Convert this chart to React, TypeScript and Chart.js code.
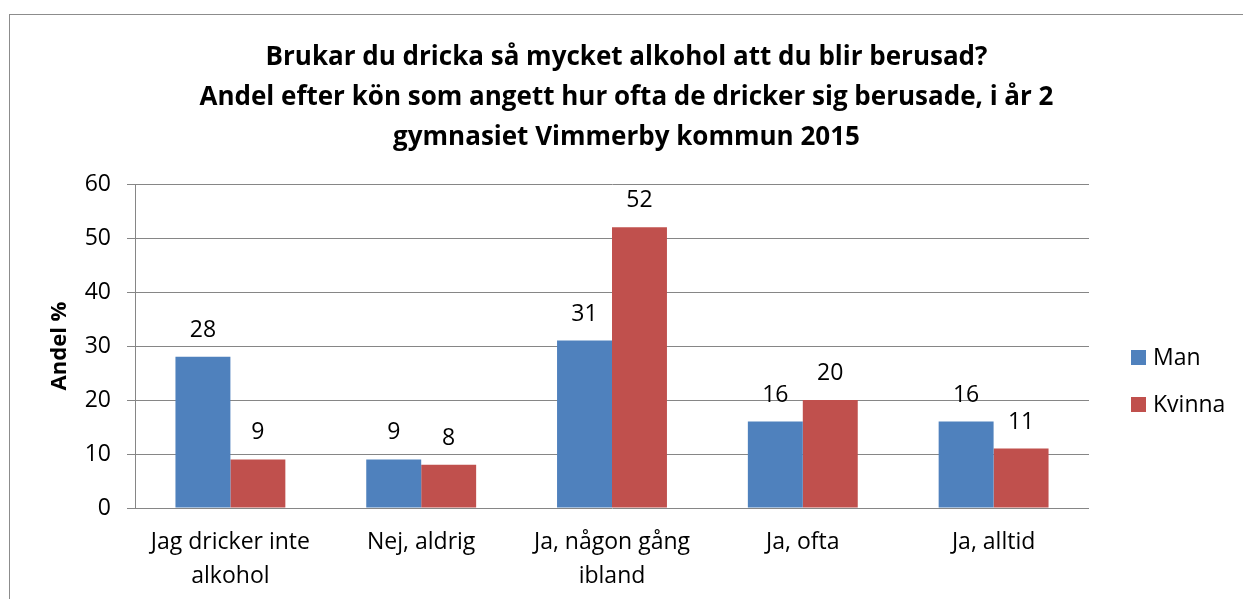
import React, { useEffect, useRef } from "react";
import { Chart, registerables } from "chart.js";

Chart.register(...registerables);

const categories: (string | string[])[] = [
  ["Jag dricker inte", "alkohol"],
  "Nej, aldrig",
  ["Ja, någon gång", "ibland"],
  "Ja, ofta",
  "Ja, alltid",
];
const seriesNames = ["Man", "Kvinna"];
const manValues = [28, 9, 31, 16, 16];
const kvinnaValues = [9, 8, 52, 20, 11];
const seriesColors = ["#4F81BD", "#C0504D"];
const yMin = 0;
const yMax = 60;
const yStep = 10;
const titleLines = [
  "Brukar du dricka så mycket alkohol att du blir berusad?",
  "Andel efter kön som angett hur ofta de dricker sig berusade, i år 2",
  "gymnasiet Vimmerby kommun 2015",
];
const yAxisTitle = "Andel %";

const FONT = "'Open Sans', sans-serif";
const W = 1233;
const H = 584;

const labelsPlugin = {
  id: "barLabels",
  afterDatasetsDraw(chart: any) {
    const ctx = chart.ctx;
    ctx.save();
    ctx.font = `23px ${FONT}`;
    ctx.fillStyle = "#000";
    ctx.textAlign = "center";
    ctx.textBaseline = "alphabetic";
    chart.data.datasets.forEach((ds: any, di: number) => {
      const meta = chart.getDatasetMeta(di);
      meta.data.forEach((bar: any, i: number) => {
        ctx.fillText(String(ds.data[i]), bar.x, bar.y - 20);
      });
    });
    ctx.restore();
  },
};

const legendPlugin = {
  id: "customLegend",
  afterDraw(chart: any) {
    const ctx = chart.ctx;
    ctx.save();
    ctx.font = `23px ${FONT}`;
    ctx.textAlign = "left";
    ctx.textBaseline = "alphabetic";
    chart.data.datasets.forEach((ds: any, di: number) => {
      const y = 335 + di * 47;
      ctx.fillStyle = ds.backgroundColor;
      ctx.fillRect(1121, y, 15, 15);
      ctx.fillStyle = "#000";
      ctx.fillText(ds.label, 1143, y + 15);
    });
    ctx.restore();
  },
};

export default function App() {
  const ref = useRef<HTMLCanvasElement>(null);

  useEffect(() => {
    if (!ref.current) return;
    Chart.defaults.font.family = FONT;
    const chart = new Chart(ref.current, {
      type: "bar",
      data: {
        labels: categories,
        datasets: [
          {
            label: seriesNames[0],
            data: manValues,
            backgroundColor: seriesColors[0],
            categoryPercentage: 0.576,
            barPercentage: 1,
          },
          {
            label: seriesNames[1],
            data: kvinnaValues,
            backgroundColor: seriesColors[1],
            categoryPercentage: 0.576,
            barPercentage: 1,
          },
        ],
      },
      options: {
        responsive: false,
        animation: false,
        devicePixelRatio: 1,
        layout: { padding: 0 },
        plugins: {
          legend: { display: false },
          tooltip: { enabled: false },
          title: {
            display: true,
            text: titleLines,
            color: "#000",
            font: { family: FONT, size: 26, weight: "bold", lineHeight: 40 / 26 },
            padding: { top: 23, bottom: 26 },
          },
        },
        scales: {
          x: {
            grid: { display: false },
            border: { display: false },
            ticks: {
              color: "#000",
              font: { family: FONT, size: 23, lineHeight: 34 / 23 },
              padding: 9,
              maxRotation: 0,
              autoSkip: false,
            },
            afterFit(scale: any) {
              scale.height = 91;
            },
          },
          y: {
            min: yMin,
            max: yMax,
            grid: {
              color: "#868686",
              lineWidth: 1,
              tickLength: 8,
              drawTicks: true,
            },
            border: { display: true, color: "#868686", width: 1 },
            ticks: {
              stepSize: yStep,
              color: "#000",
              font: { family: FONT, size: 23 },
              padding: 16,
            },
            title: {
              display: true,
              text: yAxisTitle,
              color: "#000",
              font: { family: FONT, size: 22, weight: "bold" },
              padding: { top: 37, bottom: 0 },
            },
            afterFit(scale: any) {
              scale.width = 125;
            },
          },
          yRightSpace: {
            position: "right",
            display: true,
            grid: { display: false, drawTicks: false },
            border: { display: false },
            ticks: { display: false },
            afterFit(scale: any) {
              scale.width = 154;
            },
          },
        },
      },
      plugins: [labelsPlugin, legendPlugin],
    } as any);
    return () => chart.destroy();
  }, []);

  return (
    <div
      style={{
        position: "fixed",
        left: 0,
        top: 0,
        width: 1243,
        height: 599,
        overflow: "hidden",
        background: "#fff",
      }}
    >
      <div
        style={{
          position: "absolute",
          left: 9,
          top: 14,
          width: 1300,
          height: 700,
          borderLeft: "1px solid #8c8c8c",
          borderTop: "1px solid #8c8c8c",
        }}
      >
        <canvas ref={ref} width={W} height={H} style={{ display: "block", width: W, height: H }} />
      </div>
    </div>
  );
}
